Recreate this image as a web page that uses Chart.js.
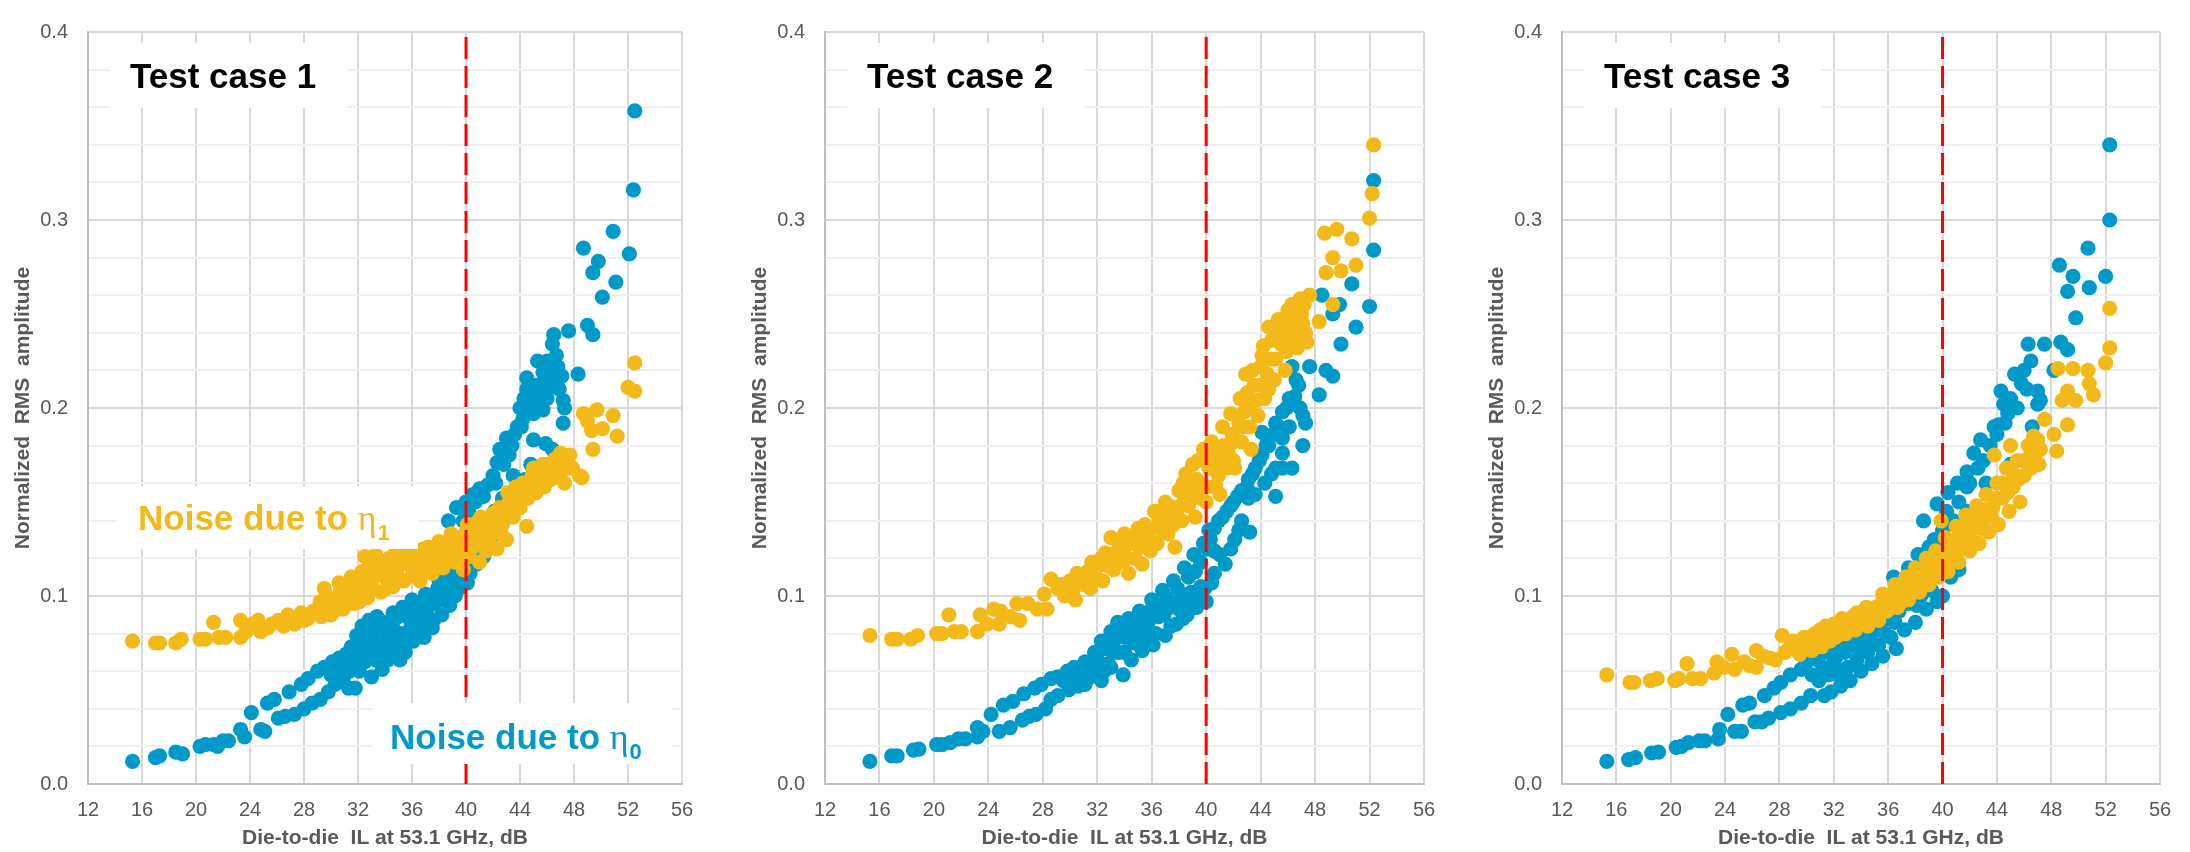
<!DOCTYPE html>
<html>
<head>
<meta charset="utf-8">
<script src="https://cdn.jsdelivr.net/npm/chart.js@4.4.1/dist/chart.umd.min.js"></script>
<style>
    html, body { margin: 0; padding: 0; background: #fff; }
    body { width: 2190px; height: 852px; position: relative; overflow: hidden; }
    canvas { position: absolute; top: 0; }
</style>
</head>
<body>
<canvas id="case1" width="730" height="852" style="left:0px"></canvas>
<canvas id="case2" width="730" height="852" style="left:737px"></canvas>
<canvas id="case3" width="716" height="852" style="left:1474px"></canvas>
<script>
// values: [die-to-die IL (dB), normalized RMS amplitude]
const thresholdIL = 40;
const xTitle = "Die-to-die  IL at 53.1 GHz, dB";
const yTitle = "Normalized  RMS  amplitude";
const panelTitles = ["Test case 1", "Test case 2", "Test case 3"];

const case1Eta0 = [[15.3,0.012],[17.0,0.014],[17.3,0.015],[18.5,0.017],[19.0,0.016],[20.3,0.020],[20.7,0.021],[21.3,0.021],[21.6,0.020],[22.0,0.023],[22.4,0.023],[23.3,0.029],[23.6,0.025],[24.1,0.038],[24.8,0.029],[25.1,0.028],[25.3,0.043],[25.8,0.045],[26.1,0.035],[26.6,0.036],[26.9,0.049],[27.3,0.037],[27.8,0.053],[28.0,0.040],[28.3,0.056],[28.6,0.043],[29.0,0.060],[29.2,0.045],[29.5,0.062],[29.8,0.049],[30.1,0.065],[30.3,0.053],[30.6,0.067],[30.9,0.056],[31.1,0.069],[31.3,0.051],[31.5,0.073],[31.8,0.051],[31.9,0.079],[32.1,0.060],[32.3,0.084],[32.5,0.065],[32.8,0.087],[33.0,0.057],[33.1,0.078],[33.4,0.089],[33.6,0.070],[33.8,0.061],[34.0,0.083],[34.3,0.072],[34.6,0.091],[34.9,0.075],[35.1,0.066],[35.3,0.094],[35.6,0.078],[35.8,0.088],[36.0,0.098],[36.2,0.080],[36.4,0.091],[36.7,0.083],[37.0,0.101],[37.3,0.095],[37.6,0.087],[37.9,0.104],[38.1,0.098],[38.3,0.115],[38.5,0.100],[38.7,0.140],[38.9,0.123],[39.0,0.108],[39.3,0.147],[39.5,0.104],[39.7,0.130],[40.0,0.150],[40.1,0.107],[40.3,0.112],[40.5,0.154],[40.8,0.117],[41.0,0.157],[41.3,0.121],[41.6,0.159],[41.7,0.126],[42.0,0.164],[42.3,0.133],[42.3,0.171],[42.5,0.178],[42.6,0.137],[42.7,0.152],[43.0,0.184],[43.0,0.142],[43.5,0.164],[43.8,0.190],[44.1,0.190],[44.2,0.194],[44.2,0.158],[44.5,0.216],[44.5,0.210],[44.7,0.202],[45.0,0.202],[45.0,0.197],[45.0,0.183],[45.3,0.225],[45.4,0.166],[45.7,0.219],[45.7,0.199],[45.9,0.181],[45.9,0.214],[46.2,0.220],[46.2,0.211],[46.4,0.178],[46.4,0.234],[46.5,0.239],[46.7,0.228],[46.8,0.222],[47.1,0.217],[47.2,0.204],[47.2,0.192],[47.3,0.200],[47.6,0.241],[48.3,0.218],[48.7,0.285],[49.0,0.244],[49.4,0.239],[49.4,0.272],[49.8,0.278],[50.1,0.259],[50.9,0.294],[51.1,0.267],[52.1,0.282],[52.4,0.316],[52.5,0.358],
    [30.0,0.058],[30.5,0.061],[31.0,0.063],[31.4,0.060],[31.7,0.066],[32.0,0.070],[32.2,0.075],[32.4,0.070],[32.7,0.080],[32.9,0.073],[33.2,0.083],[33.3,0.066],[33.5,0.076],[33.9,0.086],[34.1,0.078],[34.2,0.066],[34.4,0.086],[34.7,0.082],[34.8,0.070],[35.0,0.089],[35.2,0.080],[35.5,0.070],[35.5,0.092],[35.9,0.083],[36.1,0.076],[36.3,0.095],[36.6,0.088],[36.8,0.097],[36.9,0.078],[37.1,0.091],[37.4,0.100],[37.5,0.083],[37.7,0.096],[38.0,0.108],[38.2,0.090],[38.4,0.104],[38.7,0.110],[38.8,0.095],[39.1,0.115],[39.2,0.100],[39.4,0.120],[39.6,0.110],[39.8,0.140],[39.9,0.115],[40.2,0.145],[40.4,0.120],[40.7,0.150],[41.1,0.125],[41.3,0.153],[41.5,0.130],[41.9,0.140],[42.2,0.160],[42.1,0.145],[42.8,0.170],[43.2,0.175],[43.4,0.180],[43.6,0.186],[44.0,0.200],[44.3,0.205],[44.8,0.208],[45.2,0.212],[45.5,0.207],[46.0,0.225],[46.0,0.205],[46.6,0.215],[46.9,0.210],[43.3,0.150],[43.8,0.155],[44.4,0.162],[44.8,0.170]];
const case1Eta1 = [[15.3,0.076],[17.0,0.075],[17.3,0.075],[18.5,0.075],[18.9,0.077],[20.3,0.077],[20.7,0.077],[21.3,0.086],[21.7,0.078],[22.2,0.078],[23.3,0.078],[23.3,0.087],[23.7,0.081],[24.2,0.085],[24.6,0.087],[24.8,0.081],[25.3,0.083],[25.6,0.085],[26.1,0.087],[26.5,0.084],[26.8,0.090],[27.3,0.085],[27.8,0.091],[28.0,0.087],[28.3,0.088],[28.7,0.092],[29.0,0.093],[29.3,0.089],[29.5,0.104],[29.8,0.095],[30.0,0.090],[30.3,0.098],[30.7,0.103],[30.9,0.093],[31.2,0.100],[31.5,0.110],[31.7,0.096],[32.0,0.104],[32.3,0.113],[32.5,0.121],[32.7,0.099],[33.0,0.108],[33.3,0.122],[33.5,0.115],[33.7,0.102],[34.0,0.110],[34.3,0.120],[34.6,0.105],[34.9,0.114],[35.2,0.124],[35.4,0.108],[35.7,0.117],[36.0,0.111],[36.3,0.121],[36.6,0.108],[36.9,0.116],[37.2,0.126],[37.5,0.112],[37.8,0.120],[38.0,0.129],[38.3,0.115],[38.6,0.123],[38.9,0.133],[39.2,0.118],[39.5,0.126],[39.8,0.114],[40.0,0.134],[40.2,0.121],[40.5,0.129],[40.8,0.139],[41.0,0.118],[41.2,0.132],[41.5,0.124],[41.8,0.142],[42.0,0.135],[42.3,0.125],[42.5,0.147],[42.7,0.138],[43.0,0.130],[43.2,0.150],[43.5,0.142],[43.7,0.158],[44.0,0.147],[44.2,0.160],[44.5,0.137],[44.6,0.152],[44.9,0.164],[45.2,0.155],[45.5,0.167],[45.8,0.158],[46.0,0.170],[46.3,0.162],[46.6,0.173],[46.9,0.165],[47.0,0.176],[47.3,0.160],[47.7,0.175],[47.9,0.168],[48.4,0.164],[48.6,0.163],[48.7,0.197],[49.0,0.193],[49.3,0.188],[49.4,0.178],[49.7,0.199],[50.1,0.189],[50.9,0.196],[51.2,0.185],[52.0,0.211],[52.5,0.209],[52.5,0.224],
    [29.2,0.097],[29.7,0.100],[30.1,0.094],[30.5,0.093],[30.6,0.107],[31.0,0.098],[31.4,0.104],[31.8,0.108],[32.1,0.097],[32.4,0.106],[32.8,0.115],[33.1,0.104],[33.4,0.112],[33.9,0.118],[34.1,0.104],[34.5,0.114],[34.7,0.122],[35.0,0.109],[35.3,0.118],[35.8,0.123],[36.1,0.116],[36.5,0.112],[36.8,0.125],[37.1,0.120],[37.4,0.116],[37.7,0.126],[38.1,0.122],[38.5,0.118],[38.8,0.127],[39.1,0.124],[39.3,0.131],[39.6,0.120],[39.9,0.129],[40.1,0.138],[40.4,0.125],[40.7,0.133],[41.0,0.128],[41.1,0.142],[41.4,0.137],[41.7,0.130],[42.0,0.144],[42.2,0.140],[42.6,0.133],[42.9,0.143],[43.1,0.155],[43.4,0.148],[43.9,0.153],[44.3,0.156],[44.8,0.158],[45.0,0.168],[45.4,0.162],[45.7,0.170],[46.1,0.165],[46.5,0.168],[46.8,0.170],[47.2,0.172],[47.5,0.168]];

const case2Eta0 = [[15.3,0.012],[16.9,0.015],[17.3,0.015],[18.5,0.018],[18.9,0.0185],[20.2,0.021],[20.6,0.021],[21.2,0.022],[21.8,0.024],[22.3,0.024],[23.2,0.025],[23.2,0.030],[23.6,0.028],[24.2,0.037],[24.8,0.028],[25.1,0.042],[25.6,0.030],[25.8,0.044],[26.5,0.034],[26.6,0.048],[27.0,0.036],[27.4,0.051],[27.5,0.037],[27.9,0.053],[28.2,0.040],[28.6,0.056],[28.6,0.045],[29.1,0.057],[29.1,0.047],[29.8,0.060],[29.9,0.050],[30.3,0.062],[30.6,0.052],[30.6,0.058],[31.1,0.065],[31.1,0.053],[31.8,0.070],[31.8,0.060],[32.3,0.076],[32.3,0.055],[32.8,0.064],[33.0,0.081],[33.0,0.062],[33.5,0.086],[33.6,0.070],[33.9,0.058],[34.0,0.078],[34.3,0.088],[34.5,0.066],[34.8,0.082],[35.1,0.092],[35.3,0.071],[35.7,0.085],[36.0,0.098],[36.1,0.074],[36.5,0.089],[36.8,0.103],[37.0,0.079],[37.3,0.094],[37.6,0.108],[37.8,0.085],[38.1,0.098],[38.4,0.115],[38.6,0.090],[38.9,0.102],[39.1,0.122],[39.3,0.094],[39.6,0.105],[39.8,0.128],[40.0,0.097],[40.2,0.135],[40.4,0.107],[40.6,0.112],[40.6,0.124],[40.9,0.140],[41.4,0.117],[41.5,0.145],[42.1,0.130],[42.0,0.150],[42.6,0.140],[42.6,0.156],[43.2,0.134],[43.1,0.152],[43.1,0.162],[43.6,0.154],[43.6,0.168],[44.1,0.175],[44.1,0.187],[44.6,0.180],[45.1,0.168],[45.1,0.153],[45.1,0.192],[45.6,0.168],[45.6,0.184],[45.6,0.198],[46.1,0.205],[46.3,0.168],[46.3,0.222],[46.5,0.206],[46.8,0.212],[47.1,0.196],[47.1,0.180],[47.3,0.192],[47.6,0.222],[48.3,0.207],[48.5,0.260],[48.8,0.220],[49.3,0.217],[49.3,0.250],[49.8,0.255],[49.9,0.234],[50.7,0.266],[51.0,0.243],[52.0,0.254],[52.3,0.284],[52.3,0.321],
    [29.5,0.055],[30.0,0.057],[30.9,0.060],[31.4,0.063],[31.5,0.057],[32.0,0.066],[32.6,0.072],[32.5,0.060],[33.2,0.070],[33.3,0.077],[33.8,0.082],[34.0,0.070],[34.6,0.085],[34.7,0.075],[35.0,0.080],[35.4,0.089],[35.6,0.078],[35.9,0.092],[36.3,0.080],[36.4,0.095],[36.9,0.090],[37.1,0.099],[37.4,0.084],[37.9,0.104],[38.0,0.093],[38.3,0.088],[38.7,0.110],[38.8,0.097],[39.2,0.113],[39.5,0.100],[39.6,0.118],[39.9,0.104],[40.1,0.125],[40.3,0.130],[40.6,0.136],[41.0,0.122],[41.2,0.142],[41.8,0.125],[41.8,0.148],[42.3,0.153],[42.4,0.135],[43.0,0.158],[43.4,0.165],[43.9,0.172],[44.4,0.180],[44.9,0.186],[45.3,0.190],[45.9,0.200],[46.6,0.215],[44.3,0.160],[44.8,0.165],[45.6,0.176],[46.1,0.190],[46.9,0.200]];
const case2Eta1 = [[15.3,0.079],[16.9,0.077],[17.3,0.077],[18.3,0.077],[18.8,0.079],[20.2,0.080],[20.6,0.080],[21.1,0.090],[21.5,0.081],[22.0,0.081],[23.2,0.081],[23.4,0.090],[23.9,0.085],[24.4,0.093],[24.8,0.085],[24.9,0.092],[25.6,0.089],[26.1,0.096],[26.3,0.087],[26.9,0.096],[27.6,0.093],[28.1,0.101],[28.3,0.093],[28.6,0.109],[29.1,0.104],[29.6,0.100],[30.0,0.108],[30.4,0.098],[30.8,0.110],[31.3,0.113],[31.5,0.104],[32.1,0.116],[32.4,0.108],[32.6,0.123],[33.0,0.131],[33.2,0.114],[33.5,0.124],[33.8,0.118],[34.0,0.133],[34.3,0.112],[34.5,0.128],[34.8,0.120],[35.0,0.136],[35.3,0.117],[35.6,0.130],[35.9,0.124],[36.2,0.145],[36.4,0.128],[36.7,0.138],[37.0,0.150],[37.2,0.133],[37.5,0.143],[37.7,0.126],[38.0,0.156],[38.2,0.140],[38.5,0.165],[38.7,0.148],[39.0,0.170],[39.2,0.142],[39.5,0.160],[39.8,0.178],[40.0,0.150],[40.2,0.168],[40.4,0.182],[40.7,0.158],[41.0,0.176],[41.0,0.154],[41.2,0.190],[41.5,0.168],[41.8,0.197],[42.0,0.182],[42.1,0.168],[42.5,0.205],[42.7,0.190],[42.9,0.218],[43.1,0.200],[43.3,0.178],[43.5,0.212],[43.8,0.196],[44.0,0.222],[44.2,0.233],[44.3,0.205],[44.6,0.243],[44.8,0.226],[45.0,0.215],[45.3,0.247],[45.5,0.234],[45.8,0.220],[46.0,0.240],[46.3,0.255],[46.5,0.245],[46.7,0.232],[47.0,0.250],[47.3,0.240],[47.6,0.260],[48.3,0.246],[48.8,0.272],[49.3,0.280],[49.3,0.255],[49.6,0.295],[48.7,0.293],[49.9,0.273],[50.7,0.290],[51.0,0.276],[52.0,0.301],[52.2,0.314],[52.3,0.340],
    [29.3,0.106],[29.8,0.103],[30.2,0.102],[30.5,0.112],[31.0,0.106],[31.6,0.118],[31.9,0.110],[32.3,0.120],[32.8,0.116],[33.1,0.122],[33.6,0.128],[33.9,0.124],[34.2,0.120],[34.7,0.132],[35.1,0.126],[35.5,0.138],[35.8,0.132],[36.1,0.136],[36.5,0.142],[36.9,0.134],[37.3,0.148],[37.8,0.144],[38.1,0.148],[38.4,0.153],[38.9,0.156],[39.3,0.162],[39.6,0.152],[40.1,0.158],[40.3,0.174],[40.6,0.168],[40.9,0.164],[41.3,0.180],[41.6,0.176],[42.0,0.172],[42.4,0.192],[42.6,0.182],[43.0,0.208],[43.2,0.190],[43.7,0.204],[44.0,0.212],[44.5,0.218],[44.8,0.236],[45.1,0.226],[45.6,0.242],[45.9,0.230],[46.2,0.248],[46.6,0.240],[46.9,0.258],[47.1,0.245],[47.4,0.235],
    [36.0,0.128],[36.8,0.146],[37.6,0.138],[38.3,0.160],[39.0,0.152],[39.4,0.172],[40.5,0.176],[41.1,0.170],[41.9,0.186],[42.8,0.198],[43.4,0.220],[44.1,0.228],[44.6,0.210],[45.3,0.238],[46.0,0.252],[46.4,0.236],[47.2,0.255]];

const case3Eta0 = [[15.3,0.012],[16.9,0.013],[17.4,0.014],[18.6,0.0165],[19.1,0.017],[20.4,0.0195],[20.8,0.020],[21.3,0.022],[22.1,0.023],[22.5,0.023],[23.5,0.024],[23.6,0.029],[24.2,0.037],[24.7,0.028],[25.2,0.028],[25.3,0.042],[25.8,0.043],[26.2,0.033],[26.7,0.033],[26.9,0.047],[27.2,0.035],[27.6,0.051],[28.1,0.054],[28.1,0.038],[28.8,0.058],[28.8,0.040],[29.6,0.061],[29.6,0.043],[30.0,0.065],[30.3,0.047],[30.8,0.066],[31.3,0.047],[31.5,0.070],[31.8,0.049],[32.0,0.074],[32.3,0.058],[32.5,0.052],[32.7,0.078],[33.0,0.062],[33.2,0.055],[33.4,0.082],[33.7,0.066],[34.0,0.060],[34.2,0.085],[34.5,0.070],[34.8,0.064],[35.0,0.088],[35.3,0.074],[35.6,0.068],[35.9,0.092],[36.2,0.078],[36.4,0.110],[36.6,0.072],[36.9,0.095],[37.2,0.082],[37.5,0.115],[37.7,0.098],[38.0,0.086],[38.2,0.122],[38.4,0.100],[38.6,0.140],[38.8,0.093],[39.0,0.126],[39.2,0.103],[39.6,0.149],[39.6,0.097],[40.0,0.135],[40.0,0.100],[40.4,0.155],[40.6,0.110],[40.8,0.121],[41.1,0.160],[41.2,0.114],[41.8,0.158],[41.8,0.166],[42.3,0.176],[42.5,0.145],[42.8,0.183],[43.2,0.160],[43.8,0.190],[44.1,0.191],[44.3,0.209],[44.5,0.202],[44.8,0.197],[45.0,0.170],[45.3,0.218],[45.8,0.213],[46.0,0.220],[46.3,0.234],[46.5,0.225],[46.6,0.190],[47.0,0.209],[47.0,0.202],[47.2,0.204],[47.5,0.234],[48.2,0.220],[48.6,0.276],[48.7,0.235],[49.2,0.231],[49.2,0.262],[49.6,0.270],[49.8,0.248],[50.7,0.285],[50.8,0.264],[52.0,0.270],[52.3,0.300],[52.3,0.340],
    [30.4,0.058],[30.9,0.055],[31.2,0.062],[31.6,0.058],[32.0,0.064],[32.2,0.068],[32.8,0.070],[33.0,0.074],[33.6,0.076],[33.8,0.072],[34.3,0.080],[34.6,0.077],[35.2,0.082],[35.4,0.086],[35.8,0.080],[36.0,0.088],[36.5,0.086],[36.8,0.092],[37.0,0.102],[37.4,0.096],[37.9,0.106],[38.1,0.095],[38.5,0.112],[38.9,0.118],[39.3,0.110],[39.4,0.130],[39.8,0.120],[40.2,0.128],[40.3,0.145],[40.8,0.140],[41.2,0.150],[41.5,0.135],[41.8,0.145],[42.0,0.160],[42.6,0.168],[43.0,0.172],[43.5,0.180],[44.0,0.186],[44.6,0.192],[45.0,0.205],[45.5,0.200],[46.2,0.210]];
const case3Eta1 = [[15.3,0.058],[17.0,0.054],[17.3,0.054],[18.5,0.055],[19.0,0.056],[20.3,0.055],[20.6,0.056],[21.2,0.064],[21.6,0.056],[22.2,0.056],[23.2,0.059],[23.4,0.065],[23.9,0.062],[24.5,0.069],[24.7,0.061],[25.4,0.065],[25.8,0.063],[26.3,0.071],[26.3,0.062],[26.8,0.068],[27.3,0.067],[27.7,0.066],[28.2,0.079],[28.4,0.070],[28.7,0.072],[29.2,0.073],[29.5,0.069],[29.8,0.078],[30.1,0.075],[30.4,0.071],[30.8,0.077],[31.1,0.073],[31.4,0.084],[31.7,0.076],[32.1,0.078],[32.4,0.082],[32.6,0.088],[32.9,0.080],[33.1,0.086],[33.4,0.089],[33.6,0.082],[33.9,0.087],[34.2,0.092],[34.5,0.084],[34.8,0.090],[35.1,0.094],[35.3,0.087],[35.6,0.101],[35.9,0.092],[36.2,0.098],[36.5,0.106],[36.7,0.094],[37.0,0.102],[37.3,0.110],[37.5,0.098],[37.8,0.106],[38.0,0.115],[38.3,0.102],[38.5,0.110],[38.8,0.120],[39.0,0.106],[39.3,0.115],[39.5,0.124],[39.7,0.110],[39.9,0.140],[40.0,0.120],[40.2,0.131],[40.4,0.113],[40.7,0.126],[41.0,0.137],[41.2,0.118],[41.5,0.131],[41.7,0.143],[42.0,0.124],[42.2,0.136],[42.5,0.148],[42.7,0.128],[43.0,0.141],[43.2,0.154],[43.4,0.134],[43.7,0.147],[43.8,0.175],[44.0,0.160],[44.1,0.138],[44.4,0.152],[44.7,0.168],[44.9,0.145],[45.0,0.180],[45.2,0.158],[45.5,0.172],[45.7,0.150],[46.0,0.164],[46.3,0.180],[46.5,0.168],[46.8,0.175],[47.0,0.183],[47.1,0.170],[47.5,0.194],[48.2,0.186],[48.4,0.177],[48.5,0.221],[48.8,0.204],[49.2,0.209],[49.2,0.191],[49.6,0.221],[49.8,0.204],[50.7,0.220],[50.8,0.213],[51.1,0.207],[52.0,0.224],[52.3,0.232],[52.3,0.253],
    [29.0,0.076],[29.6,0.076],[30.2,0.078],[30.6,0.080],[31.0,0.082],[31.6,0.080],[32.0,0.085],[32.3,0.079],[32.8,0.087],[33.2,0.083],[33.7,0.091],[34.0,0.085],[34.4,0.094],[34.8,0.088],[35.2,0.091],[35.5,0.096],[35.9,0.100],[36.3,0.094],[36.6,0.102],[37.0,0.097],[37.3,0.105],[37.7,0.102],[38.1,0.109],[38.5,0.105],[38.8,0.113],[39.2,0.110],[39.6,0.118],[40.0,0.115],[40.3,0.124],[40.6,0.120],[41.0,0.130],[41.3,0.125],[41.7,0.136],[42.1,0.130],[42.4,0.142],[42.8,0.136],[43.2,0.146],[43.6,0.142],[44.0,0.152],[44.4,0.160],[44.8,0.155],[45.2,0.165],[45.6,0.162],[46.0,0.172],[46.4,0.174],[46.7,0.185],[47.2,0.178]];

const BLUE = "#009ACA";
const GOLD = "#F3B919";
const TEXT_GRAY = "#595959";
const SANS = "'Liberation Sans', Arial, sans-serif";

const isMajor = (v) => Math.abs(v * 10 - Math.round(v * 10)) < 1e-6;
const toPoints = (pairs) => pairs.map(([x, y]) => ({x, y}));

// white boxed labels, offsets relative to the chart area corner
function labelPlugin(items) {
    return {
        id: "boxedLabels",
        afterDatasetsDraw(chart) {
            const {ctx, chartArea} = chart;
            for (const item of items) {
                const [x0, y0, x1, y1] = item.box;
                ctx.save();
                ctx.fillStyle = "#fff";
                ctx.fillRect(chartArea.left + x0, chartArea.top + y0, x1 - x0, y1 - y0);
                ctx.fillStyle = item.color;
                ctx.textBaseline = "alphabetic";
                ctx.font = "bold 35px " + SANS;
                let x = chartArea.left + item.x;
                const y = chartArea.top + item.y;
                ctx.fillText(item.text, x, y);
                if (item.symbol) {
                    x += ctx.measureText(item.text).width;
                    ctx.font = "36px 'Liberation Serif', 'Times New Roman', serif";
                    ctx.fillText(item.symbol, x, y);
                    x += ctx.measureText(item.symbol).width + 1;
                    ctx.font = "bold 22px " + SANS;
                    ctx.fillText(item.sub, x, y + 10);
                }
                ctx.restore();
            }
        }
    };
}

function createPanel(canvasId, eta0, eta1, padRight, labels) {
    const ctx = document.getElementById(canvasId);
    return new Chart(ctx, {
        type: "scatter",
        data: {
            datasets: [
                {
                    data: [{x: thresholdIL, y: 0}, {x: thresholdIL, y: 0.4}],
                    showLine: true,
                    borderColor: "#FF0000",
                    borderWidth: 3,
                    borderDash: [22, 7],
                    pointRadius: 0,
                    order: 0,
                },
                {
                    data: toPoints(eta1),
                    backgroundColor: GOLD,
                    borderWidth: 0,
                    pointRadius: 7.6,
                    order: 1,
                },
                {
                    data: toPoints(eta0),
                    backgroundColor: BLUE,
                    borderWidth: 0,
                    pointRadius: 7.6,
                    order: 2,
                },
            ]
        },
        options: {
            responsive: false,
            animation: false,
            events: [],
            layout: {padding: {left: 0, right: padRight, top: 19, bottom: 0}},
            scales: {
                x: {
                    type: "linear",
                    min: 12,
                    max: 56,
                    afterFit: (scale) => { scale.height = 68; },
                    ticks: {
                        stepSize: 4,
                        autoSkip: false,
                        maxRotation: 0,
                        padding: 14,
                        color: TEXT_GRAY,
                        font: {family: SANS, size: 20},
                    },
                    grid: {color: "#D9D9D9", lineWidth: 2, drawTicks: false},
                    border: {color: "#BFBFBF", width: 2},
                    title: {
                        display: true,
                        text: xTitle,
                        color: TEXT_GRAY,
                        font: {family: SANS, size: 21, weight: "bold"},
                        padding: {top: 0, bottom: 1},
                    },
                },
                y: {
                    type: "linear",
                    min: 0,
                    max: 0.4,
                    afterFit: (scale) => { scale.width = 88; },
                    ticks: {
                        stepSize: 0.02,
                        autoSkip: false,
                        padding: 20,
                        color: TEXT_GRAY,
                        font: {family: SANS, size: 20},
                        callback: (value) => isMajor(value) ? value.toFixed(1) : "",
                    },
                    grid: {
                        lineWidth: 2,
                        drawTicks: false,
                        color: (c) => (c.tick && isMajor(c.tick.value)) ? "#D9D9D9" : "#F0F0F0",
                    },
                    border: {color: "#BFBFBF", width: 2},
                    title: {
                        display: true,
                        text: yTitle,
                        color: TEXT_GRAY,
                        font: {family: SANS, size: 21, weight: "bold"},
                        padding: {top: 11, bottom: 0},
                    },
                },
            },
            plugins: {
                legend: {display: false},
                tooltip: {enabled: false},
            },
        },
        plugins: [labelPlugin(labels)],
    });
}

const titleLabel = (text) => ({text, color: "#000", box: [22, 11, 259, 76], x: 42, y: 56});

createPanel("case1", case1Eta0, case1Eta1, 48, [
    titleLabel(panelTitles[0]),
    {text: "Noise due to ", symbol: "\u03B7", sub: "1", color: GOLD, box: [28, 454, 330, 517], x: 50, y: 498},
    {text: "Noise due to ", symbol: "\u03B7", sub: "0", color: BLUE, box: [285, 671, 584, 732], x: 302, y: 717},
]);
createPanel("case2", case2Eta0, case2Eta1, 43, [titleLabel(panelTitles[1])]);
createPanel("case3", case3Eta0, case3Eta1, 30, [titleLabel(panelTitles[2])]);
</script>
</body>
</html>
